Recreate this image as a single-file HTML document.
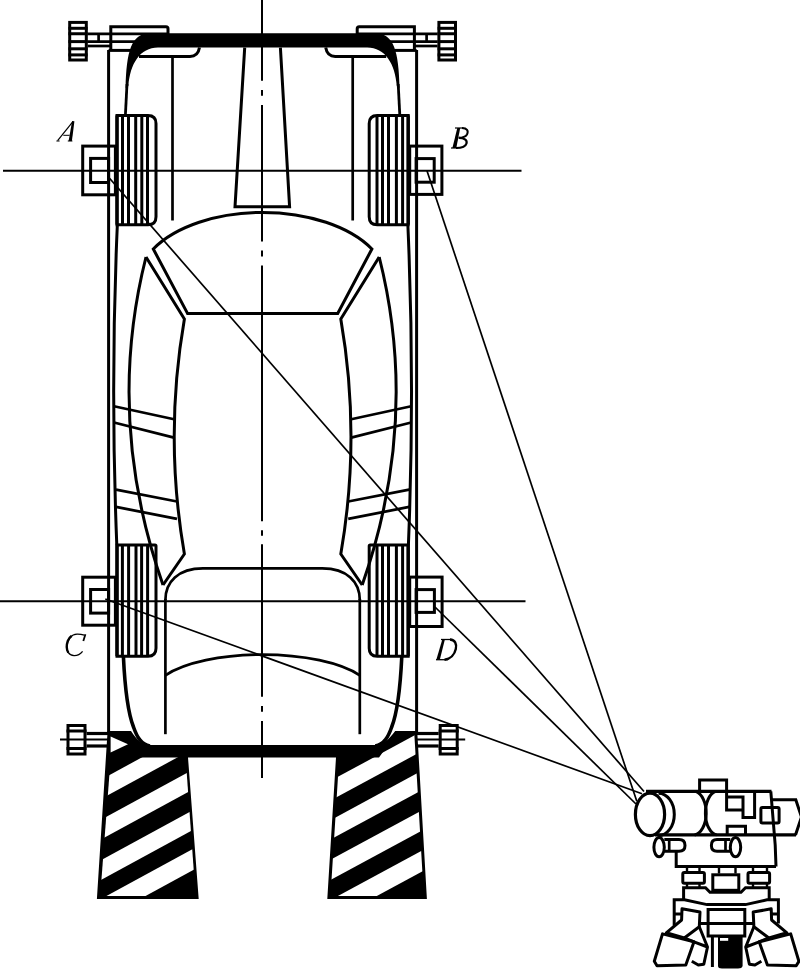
<!DOCTYPE html>
<html><head><meta charset="utf-8"><style>
html,body{margin:0;padding:0;background:#fff;}
svg{display:block;}
text{font-family:"Liberation Serif",serif;font-style:italic;fill:#000;}
</style></head><body>
<svg width="800" height="970" viewBox="0 0 800 970" stroke="#000" fill="#000">
<line x1="262.0" y1="0" x2="262.0" y2="80.7" stroke-width="2"/><line x1="262.0" y1="90" x2="262.0" y2="95.8" stroke-width="2"/><line x1="262.0" y1="105" x2="262.0" y2="241.5" stroke-width="2"/><line x1="262.0" y1="250.5" x2="262.0" y2="256.4" stroke-width="2"/><line x1="262.0" y1="265.5" x2="262.0" y2="521.2" stroke-width="2"/><line x1="262.0" y1="530.3" x2="262.0" y2="535.7" stroke-width="2"/><line x1="262.0" y1="544.2" x2="262.0" y2="696.7" stroke-width="2"/><line x1="262.0" y1="706" x2="262.0" y2="711.7" stroke-width="2"/><line x1="262.0" y1="721" x2="262.0" y2="778" stroke-width="2"/><line x1="3" y1="170.8" x2="521.5" y2="170.8" stroke-width="2"/><line x1="0" y1="601.2" x2="525.5" y2="601.2" stroke-width="2"/><line x1="108.6" y1="50" x2="108.6" y2="733" stroke-width="3.0"/><line x1="416.6" y1="50" x2="416.6" y2="733" stroke-width="3.0"/><path d="M110.8,50.4 L110.8,26.8 L166,26.8 Q168,26.8 168,28.8 L168,34" fill="none" stroke-width="3.0"/><line x1="108.6" y1="50.4" x2="132" y2="50.4" stroke-width="3.0"/><line x1="87.6" y1="33.8" x2="168" y2="33.8" stroke-width="2.7"/><line x1="87.6" y1="41.6" x2="150" y2="41.6" stroke-width="2.7"/><line x1="87.6" y1="46" x2="110.8" y2="46" stroke-width="2.7"/><line x1="98.6" y1="33.8" x2="98.6" y2="41.6" stroke-width="2.7"/><rect x="69.7" y="22.4" width="16.599999999999987" height="37.6" fill="none" stroke-width="3.0"/><line x1="68.4" y1="28.3" x2="87.6" y2="28.3" stroke-width="3.0"/><line x1="68.4" y1="33.75" x2="87.6" y2="33.75" stroke-width="3.0"/><line x1="68.4" y1="41.6" x2="87.6" y2="41.6" stroke-width="3.0"/><line x1="68.4" y1="48.8" x2="87.6" y2="48.8" stroke-width="3.0"/><line x1="68.4" y1="54.9" x2="87.6" y2="54.9" stroke-width="3.0"/><path d="M414.4,50.4 L414.4,26.8 L359.2,26.8 Q357.2,26.8 357.2,28.8 L357.2,34" fill="none" stroke-width="3.0"/><line x1="416.6" y1="50.4" x2="393.2" y2="50.4" stroke-width="3.0"/><line x1="437.6" y1="33.8" x2="357.2" y2="33.8" stroke-width="2.7"/><line x1="437.6" y1="41.6" x2="375.2" y2="41.6" stroke-width="2.7"/><line x1="437.6" y1="46" x2="414.4" y2="46" stroke-width="2.7"/><line x1="426.6" y1="33.8" x2="426.6" y2="41.6" stroke-width="2.7"/><rect x="438.90000000000003" y="22.4" width="16.599999999999987" height="37.6" fill="none" stroke-width="3.0"/><line x1="437.6" y1="28.3" x2="456.8" y2="28.3" stroke-width="3.0"/><line x1="437.6" y1="33.75" x2="456.8" y2="33.75" stroke-width="3.0"/><line x1="437.6" y1="41.6" x2="456.8" y2="41.6" stroke-width="3.0"/><line x1="437.6" y1="48.8" x2="456.8" y2="48.8" stroke-width="3.0"/><line x1="437.6" y1="54.9" x2="456.8" y2="54.9" stroke-width="3.0"/><path d="M125.6,88 C126.5,52 131,33.3 150,33.3 L375.2,33.3 C394.2,33.3 398.7,52 399.6,88 L396.8,86 C395.2,64 385.2,47.6 367.2,47.6 L158,47.6 C140,47.6 130,64 128.4,86 Z" stroke="none"/><path d="M127,84 L125.4,115" fill="none" stroke-width="2.8"/><path d="M398.2,84 L399.8,115" fill="none" stroke-width="2.8"/><path d="M139,56.4 L190,56.4 Q198,56.4 199.5,47.5" fill="none" stroke-width="3.0"/><line x1="172.5" y1="56.4" x2="172.5" y2="220.5" stroke-width="2.7"/><path d="M386.2,56.4 L335.2,56.4 Q327.2,56.4 325.7,47.5" fill="none" stroke-width="3.0"/><line x1="352.7" y1="56.4" x2="352.7" y2="220.5" stroke-width="2.7"/><path d="M244.7,47.6 L235,206.8 L289.6,206.8 L280.4,47.6" fill="none" stroke-width="3.0"/><path d="M117,115.4 L148,115.4 Q156,115.4 156,123.4 L156,216.7 Q156,224.7 148,224.7 L117,224.7 Z" fill="none" stroke-width="3.0"/><line x1="117" y1="115.4" x2="117" y2="224.7" stroke-width="3.3"/><line x1="122.5" y1="115.4" x2="122.5" y2="224.7" stroke-width="3.0"/><line x1="128.5" y1="115.4" x2="128.5" y2="224.7" stroke-width="3.0"/><line x1="135.7" y1="115.4" x2="135.7" y2="224.7" stroke-width="3.0"/><line x1="141.8" y1="115.4" x2="141.8" y2="224.7" stroke-width="3.0"/><line x1="147.5" y1="115.4" x2="147.5" y2="224.7" stroke-width="3.0"/><path d="M408.2,115.4 L377.2,115.4 Q369.2,115.4 369.2,123.4 L369.2,216.7 Q369.2,224.7 377.2,224.7 L408.2,224.7 Z" fill="none" stroke-width="3.0"/><line x1="408.2" y1="115.4" x2="408.2" y2="224.7" stroke-width="3.3"/><line x1="402.6" y1="115.4" x2="402.6" y2="224.7" stroke-width="3.0"/><line x1="396.4" y1="115.4" x2="396.4" y2="224.7" stroke-width="3.0"/><line x1="388.5" y1="115.4" x2="388.5" y2="224.7" stroke-width="3.0"/><line x1="382.5" y1="115.4" x2="382.5" y2="224.7" stroke-width="3.0"/><line x1="377.0" y1="115.4" x2="377.0" y2="224.7" stroke-width="3.0"/><path d="M117,545 L155,545 Q156,545 156,546 L156,648.2 Q156,656.2 148,656.2 L117,656.2 Z" fill="none" stroke-width="3.0"/><line x1="117" y1="545" x2="117" y2="656.2" stroke-width="3.3"/><line x1="122.4" y1="545" x2="122.4" y2="656.2" stroke-width="3.0"/><line x1="128.6" y1="545" x2="128.6" y2="656.2" stroke-width="3.0"/><line x1="136" y1="545" x2="136" y2="656.2" stroke-width="3.0"/><line x1="141.6" y1="545" x2="141.6" y2="656.2" stroke-width="3.0"/><line x1="147.6" y1="545" x2="147.6" y2="656.2" stroke-width="3.0"/><path d="M408.2,545 L370.2,545 Q369.2,545 369.2,546 L369.2,648.2 Q369.2,656.2 377.2,656.2 L408.2,656.2 Z" fill="none" stroke-width="3.0"/><line x1="408.2" y1="545" x2="408.2" y2="656.2" stroke-width="3.3"/><line x1="402.6" y1="545" x2="402.6" y2="656.2" stroke-width="3.0"/><line x1="396.4" y1="545" x2="396.4" y2="656.2" stroke-width="3.0"/><line x1="388.5" y1="545" x2="388.5" y2="656.2" stroke-width="3.0"/><line x1="382.5" y1="545" x2="382.5" y2="656.2" stroke-width="3.0"/><line x1="377.0" y1="545" x2="377.0" y2="656.2" stroke-width="3.0"/><rect x="82.7" y="146.1" width="32.7" height="48.7" fill="none" stroke-width="3.0"/><rect x="90.6" y="158.4" width="18.0" height="24.1" fill="none" stroke-width="3.0"/><rect x="409.7" y="146.1" width="32.2" height="48.3" fill="none" stroke-width="3.0"/><rect x="416.1" y="158.6" width="18.1" height="23.6" fill="none" stroke-width="3.0"/><rect x="82.7" y="577.2" width="32.7" height="48.0" fill="none" stroke-width="3.0"/><rect x="90.6" y="589.5" width="18.0" height="23.6" fill="none" stroke-width="3.0"/><rect x="409.7" y="577.1" width="32.4" height="49.4" fill="none" stroke-width="3.0"/><rect x="416.1" y="589.6" width="18.3" height="22.8" fill="none" stroke-width="3.0"/><g stroke-linecap="butt"><path d="M57.6,140.6 L72.9,121.6" fill="none" stroke-width="1.2"/><polygon points="72.1,121 74.4,121.2 71.9,141 68.6,141" stroke="none"/><line x1="67.8" y1="141" x2="72.4" y2="141" stroke-width="1"/><line x1="56.4" y1="141" x2="59.6" y2="141" stroke-width="1"/><line x1="63.3" y1="135.3" x2="69.6" y2="135.3" stroke-width="1"/><line x1="455" y1="128" x2="463.5" y2="128" stroke-width="1.2"/><polygon points="457.3,128 460.2,128 456.3,148 452.4,148" stroke="none"/><line x1="451" y1="148" x2="458" y2="148" stroke-width="1.2"/><path d="M462,128 C467,128 468.8,131 467,134.5 C465.5,137 462,137.8 458.5,137.8" fill="none" stroke-width="2"/><path d="M459,137.8 C464,137.8 467.5,140 466.5,143.5 C465.5,147 461.5,148 456,148" fill="none" stroke-width="2.2"/><path d="M82.6,651.3 C80,654.5 77,655.7 74,655.6 C68.5,655.3 66.3,650.5 66.8,646 C67.5,639 71.5,634.3 77,634.1 C80,634 82.5,634.6 84.3,635.2" fill="none" stroke-width="1.3"/><path d="M68.3,652.6 C66.4,649.5 66.4,645 67.8,641 C68.8,638.5 70,637 71.5,636" fill="none" stroke-width="2.4"/><path d="M85.4,634.3 L83.3,641" fill="none" stroke-width="1.8"/><line x1="441" y1="639.5" x2="451" y2="639.5" stroke-width="1.3"/><polygon points="442.2,639.7 444.8,639.7 439.9,659.6 436.4,659.6" stroke="none"/><line x1="436" y1="659.7" x2="448" y2="659.7" stroke-width="1.3"/><path d="M450,639.5 C455,639.7 456.9,644 455.8,649 C454.6,654.5 450.5,659 444.5,659.7" fill="none" stroke-width="2.4"/></g><path d="M117.3,225.8 Q110.3,385 116.8,545" fill="none" stroke-width="3.0"/><path d="M146,257 Q105,419.5 163,585" fill="none" stroke-width="3.0"/><path d="M146,257 L184.4,319 Q164,436.5 184.4,554 L163,585" fill="none" stroke-width="3.0" stroke-linejoin="miter"/><line x1="114" y1="406.2" x2="174" y2="419.2" stroke-width="2.7"/><line x1="114" y1="422.5" x2="174" y2="437.6" stroke-width="2.7"/><line x1="116" y1="489.6" x2="177" y2="501.5" stroke-width="2.7"/><line x1="116" y1="506.9" x2="177" y2="518.8" stroke-width="2.7"/><path d="M123.4,656.5 C125,690 128,713 133.5,727 C137,737 141,744.5 150,746" fill="none" stroke-width="3.6"/><line x1="165.4" y1="599" x2="165.4" y2="734.2" stroke-width="2.7"/><rect x="68.0" y="725.5" width="17.0" height="28.5" fill="none" stroke-width="3.0"/><line x1="66.5" y1="731" x2="86.5" y2="731" stroke-width="3.0"/><line x1="66.5" y1="748.5" x2="86.5" y2="748.5" stroke-width="3.0"/><line x1="86.5" y1="733.5" x2="108.6" y2="733.5" stroke-width="3.2"/><line x1="86.5" y1="746" x2="108.6" y2="746" stroke-width="3.2"/><line x1="60" y1="739.5" x2="108.6" y2="739.5" stroke-width="2"/><path d="M407.9,225.8 Q414.9,385 408.4,545" fill="none" stroke-width="3.0"/><path d="M379.2,257 Q420.2,419.5 362.2,585" fill="none" stroke-width="3.0"/><path d="M379.2,257 L340.8,319 Q361.2,436.5 340.8,554 L362.2,585" fill="none" stroke-width="3.0" stroke-linejoin="miter"/><line x1="411.2" y1="406.2" x2="351.2" y2="419.2" stroke-width="2.7"/><line x1="411.2" y1="422.5" x2="351.2" y2="437.6" stroke-width="2.7"/><line x1="409.2" y1="489.6" x2="348.2" y2="501.5" stroke-width="2.7"/><line x1="409.2" y1="506.9" x2="348.2" y2="518.8" stroke-width="2.7"/><path d="M401.8,656.5 C400.2,690 397.2,713 391.7,727 C388.2,737 384.2,744.5 375.2,746" fill="none" stroke-width="3.6"/><line x1="359.8" y1="599" x2="359.8" y2="734.2" stroke-width="2.7"/><rect x="440.2" y="725.5" width="17.0" height="28.5" fill="none" stroke-width="3.0"/><line x1="438.7" y1="731" x2="458.7" y2="731" stroke-width="3.0"/><line x1="438.7" y1="748.5" x2="458.7" y2="748.5" stroke-width="3.0"/><line x1="438.7" y1="733.5" x2="416.6" y2="733.5" stroke-width="3.2"/><line x1="438.7" y1="746" x2="416.6" y2="746" stroke-width="3.2"/><line x1="465.2" y1="739.5" x2="416.6" y2="739.5" stroke-width="2"/><path d="M187.5,313.4 L153.3,249 A125,71 0 0 1 371.9,249 L337.7,313.4 Z" fill="none" stroke-width="3.0" stroke-linejoin="miter" stroke-miterlimit="10"/><path d="M165.4,600 C165.4,582 178,568.4 203,568.4 L322.2,568.4 C347.2,568.4 359.8,582 359.8,600" fill="none" stroke-width="2.7"/><path d="M165.4,675.3 A110,39 0 0 1 359.8,675.3" fill="none" stroke-width="2.7"/><path d="M107.6,731 L131,731 C137,740 142,745 150,745 L375.2,745 C383.2,745 388.2,740 395.2,731 L417.2,731 L426.9,899 L327.3,899 L336,757.4 L188,757.4 L198.7,899 L96.9,899 Z" stroke="none"/><path d="M110.6,736.4 L128,744.3 L110.6,752.6 Z" fill="#fff" stroke="none"/><clipPath id="cl"><polygon points="110.7,757.5 100.2,896 195.6,896 185.6,757.5"/></clipPath><g clip-path="url(#cl)" fill="#fff" stroke="none"><polygon points="45,810.2 265,690.3 265,709.6999999999999 45,829.6"/><polygon points="45,850.2 265,730.3 265,750.1999999999999 45,870.1"/><polygon points="45,890.7 265,770.8 265,790.5999999999999 45,910.5"/><polygon points="45,929.5 265,809.5999999999999 265,830.9 45,950.8000000000001"/></g><clipPath id="cr"><polygon points="339.2,757.5 330.5,896 423.8,896 414.3,733.6 388,745 379,757.5"/></clipPath><g clip-path="url(#cr)" fill="#fff" stroke="none"><polygon points="277,809.6999999999999 497,690.9 497,710.6 277,829.4"/><polygon points="277,849.0 497,730.2 497,749.6 277,868.4"/><polygon points="277,888.6999999999999 497,769.9 497,790.1 277,908.9"/><polygon points="277,928.9 497,810.1 497,831.1 277,949.9"/></g><line x1="108" y1="176.5" x2="644" y2="791.5" stroke-width="1.7"/><line x1="426.8" y1="170.3" x2="636.8" y2="801.3" stroke-width="1.7"/><line x1="105.3" y1="599" x2="642" y2="793.8" stroke-width="1.7"/><line x1="435" y1="607" x2="636" y2="804" stroke-width="1.7"/><ellipse cx="650" cy="814.4" rx="14.6" ry="21.2" fill="#fff" stroke-width="3.2"/><path d="M658.5,793.2 A15.8,21.2 0 0 1 658.5,835.6" fill="none" stroke-width="3.0"/><line x1="646" y1="791.4" x2="771.5" y2="791.4" stroke-width="3.2"/><line x1="655" y1="834.9" x2="796" y2="834.9" stroke-width="3.2"/><path d="M695.6,791.4 A13,22 0 0 1 694.6,834.9" fill="none" stroke-width="3.0"/><path d="M715.6,791.4 A12.5,22 0 0 0 716.6,834.9" fill="none" stroke-width="3.0"/><path d="M699.6,791.4 L699.6,780 L726.6,780 L726.6,810 L743,810 M726.6,797 L743,797 L743,817.6 L754.6,817.6 L754.6,791.4" fill="none" stroke-width="3.0"/><rect x="760.9" y="807.6" width="18.2" height="15.4" rx="1.5" fill="none" stroke-width="3.0"/><path d="M770.8,791.4 L775.2,845 L776,866.5" fill="none" stroke-width="3.0"/><path d="M772,799.7 L795.8,799.7 L801.5,817 L795.5,834.9" fill="none" stroke-width="3.0" stroke-linejoin="miter"/><path d="M727.2,834.9 L727.2,826.3 L745.5,826.3 L745.5,834.9" fill="none" stroke-width="3.0"/><ellipse cx="659.1" cy="847.2" rx="5.2" ry="9.6" fill="none" stroke-width="3.0"/><path d="M664.3,839.6 L679,839.6 Q685,839.6 685,845.4 Q685,851.2 679,851.2 L664.3,851.2" fill="none" stroke-width="3.0"/><line x1="669.2" y1="839.6" x2="669.2" y2="851.2" stroke-width="2.7"/><ellipse cx="735.5" cy="847.2" rx="5.2" ry="9.6" fill="none" stroke-width="3.0"/><path d="M730.3,839.6 L717,839.6 Q711.4,839.6 711.4,845.4 Q711.4,851.2 717,851.2 L730.3,851.2" fill="none" stroke-width="3.0"/><line x1="725.5" y1="839.6" x2="725.5" y2="851.2" stroke-width="2.7"/><path d="M676.2,851 L676.2,866.5 L776,866.5" fill="none" stroke-width="3.0"/><rect x="687" y="866.5" width="0" height="0" fill="none" stroke="none"/><rect x="719" y="866.5" width="0" height="0" fill="none" stroke="none"/><rect x="753" y="866.5" width="0" height="0" fill="none" stroke="none"/><rect x="687" y="884.0" width="0" height="0" fill="none" stroke="none"/><rect x="753" y="884" width="0" height="0" fill="none" stroke="none"/><path d="M687,866.5 L687,871.5 M699.5,866.5 L699.5,871.5" fill="none" stroke-width="2.4"/><path d="M719,866.5 L719,873.5 M735.5,866.5 L735.5,873.5" fill="none" stroke-width="2.4"/><path d="M753,866.5 L753,871.5 M767,866.5 L767,871.5" fill="none" stroke-width="2.4"/><path d="M687,884 L687,887.8 M699.5,884 L699.5,887.8" fill="none" stroke-width="2.4"/><path d="M753,884 L753,887.8 M767,884 L767,887.8" fill="none" stroke-width="2.4"/><rect x="682.8" y="872.6" width="21.6" height="10.6" rx="1.5" fill="none" stroke-width="3.0"/><rect x="748" y="872.6" width="21.6" height="10.6" rx="1.5" fill="none" stroke-width="3.0"/><rect x="712.8" y="874.8" width="26" height="15.5" fill="none" stroke-width="3.0"/><path d="M683.6,899.8 L683.6,887.8 L705.5,887.8 L710,892.3 L741,892.3 L745.5,887.8 L769.2,887.8 L769.2,899.8" fill="none" stroke-width="3.0"/><path d="M674.2,925.5 L674.2,899.8 L684.5,899.8 L707,904.6 L745.5,904.6 L767,899.8 L778.4,899.8 L778.4,923.5" fill="none" stroke-width="3.0"/><path d="M708.1,909.6 L708.1,936 L744.8,936 L744.8,909.6 Z M699.3,923.5 L753.9,923.5" fill="none" stroke-width="3.0"/><line x1="712.4" y1="936" x2="712.4" y2="967" stroke-width="3.0"/><path d="M718,936 L742.6,936 L742.6,966 Q742,968.5 738,968.5 L722,968.5 Q718,968.5 718,966 Z" stroke="none"/><rect x="720" y="938" width="8.2" height="2.8" fill="#fff" stroke="none"/><path d="M674.2,914 L682,914" fill="none" stroke-width="3.0"/><path d="M682,908.8 L700,912.1 L699.3,926.8 L684.3,938 L666.3,932.8 L681.6,920 Z" fill="none" stroke-width="3.0" stroke-linejoin="round"/><path d="M662.5,933.9 L694,941.8 L685.8,965 L657,965.7 L654.3,961.3 Z" fill="none" stroke-width="3.0" stroke-linejoin="round"/><path d="M684.3,938 L694,941.8 L707.5,947 M699.3,926.8 L707.5,947 L703.8,964.3 L698.3,965 L691.8,961.3" fill="none" stroke-width="3.0" stroke-linejoin="round"/><g transform="translate(1453.2,0) scale(-1,1)"><path d="M674.2,914 L682,914" fill="none" stroke-width="3.0"/><path d="M682,908.8 L700,912.1 L699.3,926.8 L684.3,938 L666.3,932.8 L681.6,920 Z" fill="none" stroke-width="3.0" stroke-linejoin="round"/><path d="M662.5,933.9 L694,941.8 L685.8,965 L657,965.7 L654.3,961.3 Z" fill="none" stroke-width="3.0" stroke-linejoin="round"/><path d="M684.3,938 L694,941.8 L707.5,947 M699.3,926.8 L707.5,947 L703.8,964.3 L698.3,965 L691.8,961.3" fill="none" stroke-width="3.0" stroke-linejoin="round"/></g>
</svg></body></html>
